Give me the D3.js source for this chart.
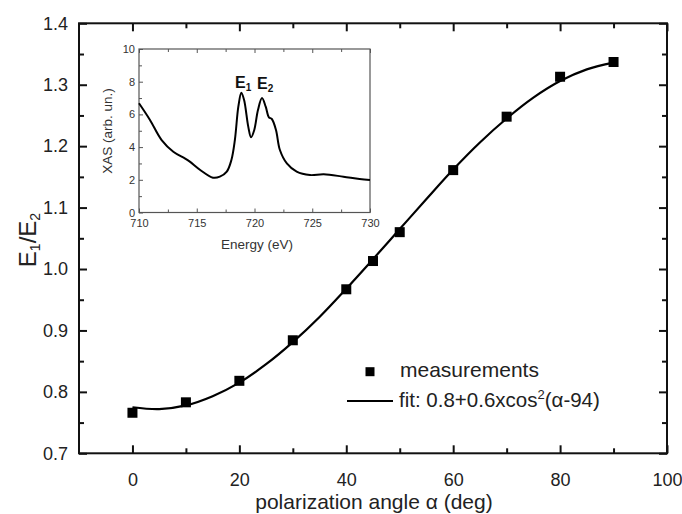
<!DOCTYPE html>
<html><head><meta charset="utf-8">
<script src="https://cdn.jsdelivr.net/npm/d3@7"></script>
<style>body{margin:0;background:#fff}svg{display:block}text{font-family:"Liberation Sans",Arial,sans-serif}</style>
</head><body>
<svg id="c" width="682" height="514"></svg>
<script>
// ---- main chart data ----
const angles = [0, 10, 20, 30, 40, 45, 50, 60, 70, 80, 90];
const ratios = [0.766, 0.783, 0.818, 0.884, 0.967, 1.013, 1.060, 1.161, 1.248, 1.313, 1.337];
const fitAngles = [0, 5, 10, 15, 20, 25, 30, 35, 40, 45, 50, 55, 60, 65, 70, 75, 80, 85, 90];
const fitValues = [0.775, 0.772, 0.778, 0.793, 0.815, 0.845, 0.881, 0.922, 0.968, 1.016, 1.065, 1.114, 1.162, 1.206, 1.245, 1.279, 1.306, 1.325, 1.336];
const xMajorTicks = [0, 20, 40, 60, 80, 100];
const xMinorTicks = [10, 30, 50, 70, 90];
const yMajorTicks = [0.7, 0.8, 0.9, 1.0, 1.1, 1.2, 1.3, 1.4];
const yMinorTicks = [0.75, 0.85, 0.95, 1.05, 1.15, 1.25, 1.35];
// ---- inset data ----
const energy = [710, 710.95, 711.96, 712.97, 714.0, 714.4, 715.3, 716.4, 717.0, 717.6, 718.0, 718.3, 718.6, 718.86, 719.1, 719.46, 719.7, 719.98, 720.3, 720.65, 720.97, 721.25, 721.5, 721.86, 722.2, 722.8, 723.65, 724.8, 726.0, 727.7, 729.1, 730];
const xas =    [6.68, 5.66, 4.43, 3.72, 3.30, 3.11, 2.60, 2.13, 2.19, 2.50, 3.21, 4.43, 6.47, 7.33, 6.88, 5.25, 4.60, 5.05, 6.27, 7.00, 6.47, 5.82, 5.72, 5.05, 3.82, 3.00, 2.50, 2.29, 2.34, 2.19, 2.05, 1.99];
const insetXTicks = [710, 715, 720, 725, 730];
const insetXMinor = [712.5, 717.5, 722.5, 727.5];
const insetYTicks = [0, 2, 4, 6, 8, 10];
const insetYMinor = [1, 3, 5, 7, 9];

const svg = d3.select("#c");
const L = 79, R = 667, T = 23.3, B = 453.3;
const x = d3.scaleLinear().domain([-10, 100]).range([L, R]);
const y = d3.scaleLinear().domain([0.7, 1.4]).range([B, T]);
const axCol = "#111", txtCol = "#222";

function styleAxis(g, width) {
  g.select(".domain").remove();
  g.selectAll(".tick line").attr("stroke", axCol).attr("stroke-width", width);
  g.selectAll(".tick text").attr("fill", txtCol);
}
// bottom
svg.append("g").attr("transform", `translate(0,${B})`)
  .call(d3.axisBottom(x).tickValues(xMajorTicks).tickSize(-8).tickPadding(20).tickFormat(d3.format("d")))
  .call(g => styleAxis(g, 2)).attr("font-size", 18).attr("font-family", null);
svg.append("g").attr("transform", `translate(0,${B})`)
  .call(d3.axisBottom(x).tickValues(xMinorTicks).tickSize(-5).tickFormat(""))
  .call(g => styleAxis(g, 2));
// top
svg.append("g").attr("transform", `translate(0,${T})`)
  .call(d3.axisTop(x).tickValues(xMajorTicks).tickSize(-8).tickFormat(""))
  .call(g => styleAxis(g, 2));
svg.append("g").attr("transform", `translate(0,${T})`)
  .call(d3.axisTop(x).tickValues(xMinorTicks).tickSize(-5).tickFormat(""))
  .call(g => styleAxis(g, 2));
// left
svg.append("g").attr("transform", `translate(${L},0)`)
  .call(d3.axisLeft(y).tickValues(yMajorTicks).tickSize(-8).tickPadding(11).tickFormat(d3.format(".1f")))
  .call(g => styleAxis(g, 2)).attr("font-size", 18).attr("font-family", null);
svg.append("g").attr("transform", `translate(${L},0)`)
  .call(d3.axisLeft(y).tickValues(yMinorTicks).tickSize(-5).tickFormat(""))
  .call(g => styleAxis(g, 2));
// right
svg.append("g").attr("transform", `translate(${R},0)`)
  .call(d3.axisRight(y).tickValues(yMajorTicks).tickSize(-8).tickFormat(""))
  .call(g => styleAxis(g, 2));
svg.append("g").attr("transform", `translate(${R},0)`)
  .call(d3.axisRight(y).tickValues(yMinorTicks).tickSize(-5).tickFormat(""))
  .call(g => styleAxis(g, 2));
// frame
svg.append("rect").attr("x", L).attr("y", T).attr("width", R - L).attr("height", B - T)
  .attr("fill", "none").attr("stroke", axCol).attr("stroke-width", 2);

// fit line
const fitData = fitAngles.map((a, i) => [a, fitValues[i]]);
svg.append("path").datum(fitData)
  .attr("d", d3.line().x(d => x(d[0])).y(d => y(d[1])).curve(d3.curveCatmullRom))
  .attr("fill", "none").attr("stroke", "#000").attr("stroke-width", 2.2);
// measurements
const sq = 10;
svg.append("g").selectAll("rect").data(angles.map((a, i) => [a, ratios[i]])).join("rect")
  .attr("x", d => x(d[0]) - sq / 2).attr("y", d => y(d[1]) - sq / 2)
  .attr("width", sq).attr("height", sq).attr("fill", "#000");

// axis titles
svg.append("text").attr("x", 374).attr("y", 509).attr("text-anchor", "middle")
  .attr("font-size", 21).attr("fill", txtCol).text("polarization angle α (deg)");
const yt = svg.append("text").attr("transform", "translate(36,240) rotate(-90)")
  .attr("text-anchor", "middle").attr("font-size", 24).attr("fill", txtCol);
yt.append("tspan").text("E");
yt.append("tspan").attr("font-size", 14).attr("dy", 4).text("1");
yt.append("tspan").attr("dy", -4).text("/E");
yt.append("tspan").attr("font-size", 14).attr("dy", 4).text("2");

// legend
svg.append("rect").attr("x", 370 - 4.5).attr("y", 371.7 - 4.5).attr("width", 9).attr("height", 9).attr("fill", "#000");
svg.append("text").attr("x", 400).attr("y", 377).attr("font-size", 21).attr("fill", txtCol).text("measurements");
svg.append("line").attr("x1", 347).attr("x2", 393).attr("y1", 401).attr("y2", 401).attr("stroke", "#000").attr("stroke-width", 2);
const ft = svg.append("text").attr("x", 399).attr("y", 407).attr("font-size", 20.5).attr("fill", txtCol);
ft.append("tspan").text("fit: 0.8+0.6xcos");
ft.append("tspan").attr("font-size", 13).attr("dy", -8).text("2");
ft.append("tspan").attr("dy", 8).text("(α-94)");

// ---- inset ----
const iL = 139, iR = 370, iT = 49, iB = 212.5;
const ix = d3.scaleLinear().domain([710, 730]).range([iL, iR]);
const iy = d3.scaleLinear().domain([0, 10]).range([iB, iT]);
const inCol = "#555", inTxt = "#333";
function styleIn(g) {
  g.select(".domain").remove();
  g.selectAll(".tick line").attr("stroke", inCol).attr("stroke-width", 1);
  g.selectAll(".tick text").attr("fill", inTxt);
}
svg.append("g").attr("transform", `translate(0,${iB})`)
  .call(d3.axisBottom(ix).tickValues(insetXTicks).tickSize(-4).tickPadding(7).tickFormat(d3.format("d")))
  .call(styleIn).attr("font-size", 11).attr("font-family", null);
svg.append("g").attr("transform", `translate(0,${iB})`)
  .call(d3.axisBottom(ix).tickValues(insetXMinor).tickSize(-3).tickFormat("")).call(styleIn);
svg.append("g").attr("transform", `translate(0,${iT})`)
  .call(d3.axisTop(ix).tickValues(insetXTicks).tickSize(-4).tickFormat("")).call(styleIn);
svg.append("g").attr("transform", `translate(0,${iT})`)
  .call(d3.axisTop(ix).tickValues(insetXMinor).tickSize(-3).tickFormat("")).call(styleIn);
svg.append("g").attr("transform", `translate(${iL},0)`)
  .call(d3.axisLeft(iy).tickValues(insetYTicks).tickSize(-4).tickPadding(4).tickFormat(d3.format("d")))
  .call(styleIn).attr("font-size", 11).attr("font-family", null);
svg.append("g").attr("transform", `translate(${iL},0)`)
  .call(d3.axisLeft(iy).tickValues(insetYMinor).tickSize(-3).tickFormat("")).call(styleIn);
svg.append("rect").attr("x", iL).attr("y", iT).attr("width", iR - iL).attr("height", iB - iT)
  .attr("fill", "none").attr("stroke", inCol).attr("stroke-width", 1.2);
svg.append("path").datum(energy.map((e, i) => [e, xas[i]]))
  .attr("d", d3.line().x(d => ix(d[0])).y(d => iy(d[1])).curve(d3.curveCatmullRom))
  .attr("fill", "none").attr("stroke", "#000").attr("stroke-width", 2);
svg.append("text").attr("x", 257).attr("y", 249).attr("text-anchor", "middle")
  .attr("font-size", 13.5).attr("fill", inTxt).text("Energy (eV)");
svg.append("text").attr("transform", "translate(112,131) rotate(-90)").attr("text-anchor", "middle")
  .attr("font-size", 13.5).attr("fill", inTxt).text("XAS (arb. un.)");
function peakLabel(px, py, sub) {
  const t = svg.append("text").attr("x", px).attr("y", py).attr("font-size", 16)
    .attr("font-weight", "bold").attr("fill", "#111");
  t.append("tspan").text("E");
  t.append("tspan").attr("font-size", 10).attr("dy", 3).text(sub);
}
peakLabel(235, 88, "1");
peakLabel(257, 89, "2");
</script>
</body></html>
